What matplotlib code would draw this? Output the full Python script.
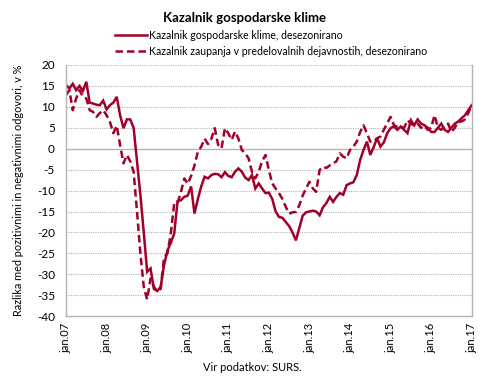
import numpy as np
import matplotlib
matplotlib.use("Agg")
import matplotlib.pyplot as plt

plt.rcParams['font.family'] = ['Lato', 'DejaVu Sans']

# monthly values, jan.07 .. jan.17
klima = [
    15.2, 14.4, 15.5, 14.0, 15.0, 13.8, 16.0, 11.0, 10.8, 10.5, 10.4, 11.5,   # 2007
    9.4, 10.4, 11.0, 12.4, 8.0, 4.9, 7.0, 7.0, 5.0, -3.0, -11.0, -20.0,       # 2008
    -29.4, -28.6, -33.5, -34.0, -33.0, -27.8, -24.3, -22.5, -20.3, -12.5, -12.3, -11.5,  # 2009
    -11.2, -9.0, -15.5, -12.0, -9.0, -6.7, -7.1, -6.3, -6.0, -6.1, -6.8, -5.6,  # 2010
    -6.5, -6.8, -5.5, -4.7, -5.5, -6.9, -7.5, -6.3, -9.5, -8.3, -9.5, -10.6,  # 2011
    -10.5, -12.0, -15.0, -16.3, -16.5, -17.5, -18.5, -20.0, -21.9, -19.0, -16.0, -15.2,  # 2012
    -15.0, -14.8, -15.0, -15.9, -14.0, -13.0, -11.5, -12.7, -11.5, -10.6, -11.0, -8.7,  # 2013
    -8.3, -8.0, -6.3, -2.7, -0.3, 1.7, -1.5, 0.4, 2.5, 0.5, 1.5, 3.7,          # 2014
    4.9, 5.3, 4.5, 5.3, 4.5, 3.7, 6.8, 5.6, 7.0, 6.0, 5.6, 5.0,                # 2015
    4.0, 4.0, 5.0, 6.0, 4.5, 4.0, 5.0, 6.0, 6.5, 7.3, 8.0, 9.2,                # 2016
    10.4,                                                                       # jan 2017
]

zaupanje = [
    12.8, 14.0, 9.2, 12.0, 14.0, 12.4, 12.0, 9.2, 8.8, 7.6, 8.5, 9.2,
    8.0, 6.4, 3.7, 5.5, 0.9, -3.5, -1.5, -3.0, -5.5, -15.0, -25.0, -33.0,
    -36.0, -31.0, -33.0, -34.0, -33.5, -26.0, -25.0, -20.2, -13.1, -13.0, -10.3, -7.1,
    -8.4, -6.5, -4.0, -0.7, 0.5, 2.4, 1.1, 2.4, 4.9, 0.9, 0.1, 4.9,
    3.7, 2.1, 4.1, 2.4, -0.3, -1.1, -2.3, -5.5, -7.1, -5.5, -3.0, -1.5,
    -5.1, -8.3, -9.5, -10.6, -12.0, -13.9, -15.5, -15.2, -15.1, -13.5, -11.2, -9.5,
    -7.9, -9.5, -10.3, -5.1, -4.3, -4.6, -4.0, -3.5, -3.0, -1.1, -1.9, -2.3,
    -0.3, 0.5, 1.7, 4.0, 5.6, 3.7, 1.7, 1.7, 2.5, 2.9, 4.5, 6.1,
    7.6, 5.6, 5.2, 5.2, 5.0, 6.8, 6.0, 5.5, 6.0, 5.0, 5.5, 4.5,
    5.0, 8.0, 5.0, 4.5, 5.5, 6.0, 4.0, 5.0, 6.5, 6.5, 7.0, 8.5,
    10.5,
]

tick_labels = ['jan.07', 'jan.08', 'jan.09', 'jan.10', 'jan.11', 'jan.12',
               'jan.13', 'jan.14', 'jan.15', 'jan.16', 'jan.17']

months = np.arange(len(klima))
red = '#A2002A'
grey = '#B4B4B4'

fig = plt.figure(figsize=(4.9, 3.8), dpi=100)
ax = fig.add_axes([0.1347, 0.168, 0.828, 0.661])

ax.plot(months, klima, color=red, lw=1.8, solid_joinstyle='miter',
        label='Kazalnik gospodarske klime, desezonirano')
ax.plot(months, zaupanje, color=red, lw=1.8, dashes=(3.0, 1.6),
        label='Kazalnik zaupanja v predelovalnih dejavnostih, desezonirano')

ax.set_xlim(0, 120)
ax.set_ylim(-40, 20)
ax.set_xticks(np.arange(0, 121, 12))
ax.set_xticklabels(tick_labels, rotation=90, fontsize=8)
yt = np.arange(-40, 21, 5)
ax.set_yticks(yt)
ax.set_yticklabels([str(v) for v in yt], fontsize=8.5)
ax.tick_params(axis='y', length=0, pad=8)
ax.tick_params(axis='x', length=0, pad=5)

for v in yt:
    if v == 0:
        ax.axhline(v, color=grey, lw=1, zorder=0)
    elif v != -40:
        ax.axhline(v, color=grey, lw=0.8, ls=(0, (1, 1)), zorder=0)

for s in ['left', 'right', 'bottom']:
    ax.spines[s].set_color(grey)
    ax.spines[s].set_linewidth(1)
ax.spines['top'].set_visible(False)

ax.set_ylabel('Razlika med pozitivnimi in negativnimi odgovori, v %', fontsize=7.8, labelpad=9)

fig.text(0.498, 0.953, 'Kazalnik gospodarske klime', ha='center', va='center',
         fontsize=9.5, fontweight='bold')
fig.legend(loc='center', bbox_to_anchor=(0.553, 0.886), frameon=False, fontsize=7.6,
           handlelength=3.0, handletextpad=0.2, labelspacing=0.45, borderaxespad=0)

fig.text(0.516, 0.032, 'Vir podatkov: SURS.', ha='center', va='center', fontsize=8)

fig.savefig('out.png', dpi=100)
